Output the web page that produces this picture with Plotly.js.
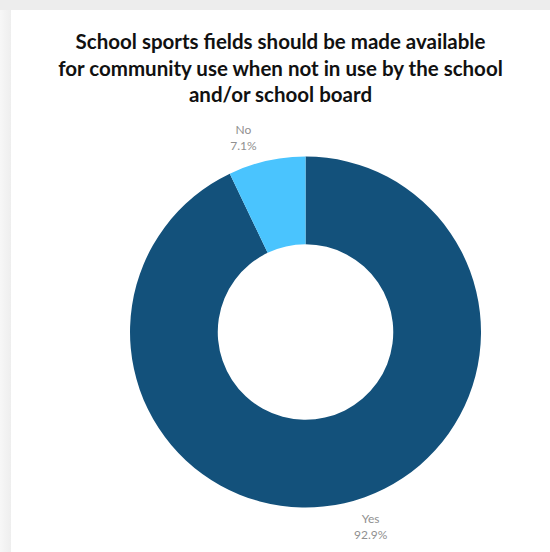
<!DOCTYPE html>
<html>
<head>
<meta charset="utf-8">
<script src="https://cdn.plot.ly/plotly-3.0.1.min.js"></script>
<style>
  html, body { margin: 0; padding: 0; width: 550px; height: 552px; overflow: hidden;
    background: linear-gradient(to right, #f7f7f7 0px, #eeeeee 11px); }
  #topbar { position: absolute; left: 0; top: 0; width: 550px; height: 10px; background: #ededed; }
  #chart { position: absolute; left: 11px; top: 10px; width: 539px; height: 542px; background: #fff; }
</style>
</head>
<body>
<div id="topbar"></div>
<div id="chart"></div>
<script>
const labels = ["Yes", "No"];
const values = [92.9, 7.1];
const sliceColors = ["#13517b", "#4ac4fe"];
const titleText = "School sports fields should be made available<br>for community use when not in use by the school<br>and/or school board";

// visible donut (no text)
const donut = {
  type: "pie",
  labels: labels,
  values: values,
  hole: 0.5,
  sort: false,
  direction: "clockwise",
  rotation: 0,
  marker: { colors: sliceColors, line: { width: 0 } },
  textinfo: "none",
  hoverinfo: "none",
  domain: { x: [0.2208, 0.8720], y: [0.0821, 0.7297] }
};

// slightly larger transparent ring that only carries the outside labels
const labelRing = {
  type: "pie",
  labels: labels,
  values: values,
  hole: 0.5,
  sort: false,
  direction: "clockwise",
  rotation: 0,
  marker: { colors: ["rgba(0,0,0,0)", "rgba(0,0,0,0)"], line: { width: 0 } },
  textposition: "outside",
  texttemplate: "%{label}<br>%{percent:.1%}",
  outsidetextfont: { family: "Lato, sans-serif", size: 12, color: "#909090" },
  hoverinfo: "none",
  domain: { x: [0.2041, 0.8887], y: [0.0655, 0.7463] }
};

const layout = {
  width: 539,
  height: 542,
  margin: { l: 0, r: 0, t: 0, b: 0 },
  paper_bgcolor: "#ffffff",
  showlegend: false,
  title: {
    text: titleText,
    x: 0.5,
    xanchor: "center",
    y: 1 - 39 / 542,
    yanchor: "top",
    yref: "container",
    font: { family: "Lato, sans-serif", size: 20.5, color: "#111111", weight: 700 }
  }
};

Plotly.newPlot("chart", [labelRing, donut], layout, { displayModeBar: false, staticPlot: true });
</script>
</body>
</html>
